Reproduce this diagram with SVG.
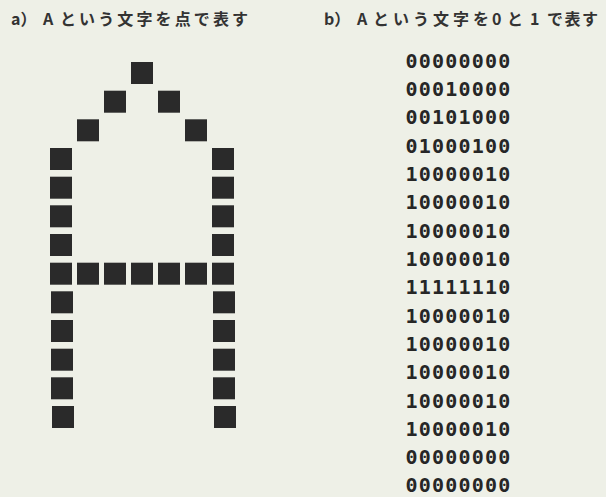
<svg xmlns="http://www.w3.org/2000/svg" xmlns:xlink="http://www.w3.org/1999/xlink" width="606" height="497" viewBox="0 0 606 497">
<style>
.bg{fill:#eef0e7}
.dot{fill:#2a2a2a}
.title{font-family:"Noto Sans CJK JP","Noto Sans",sans-serif;font-size:16px;font-weight:bold;fill:#333}
.bin{font-family:"DejaVu Sans Mono","Liberation Mono",monospace;font-size:20px;font-weight:bold;fill:#262626;letter-spacing:1.2px}
</style>
<defs>
<rect id="sq" width="22" height="22" class="dot"/>
</defs>
<rect class="bg" x="0" y="0" width="606" height="497"/>
<g id="title-a">
<text class="title" x="11" y="25">a）</text>
<text class="title" x="43" y="25">A</text>
<text class="title" x="60" y="25" textLength="188" lengthAdjust="spacing">という文字を点で表す</text>
</g>
<g id="title-b">
<text class="title" x="324" y="25">b）</text>
<text class="title" x="357" y="25">A</text>
<text class="title" x="373" y="25" textLength="116" lengthAdjust="spacing">という文字を</text>
<text class="title" x="492" y="25">0</text>
<text class="title" x="507" y="25">と</text>
<text class="title" x="530" y="25">1</text>
<text class="title" x="547" y="25" textLength="51" lengthAdjust="spacing">で表す</text>
</g>
<g id="dot-matrix">
<use xlink:href="#sq" x="131" y="62"/>
<use xlink:href="#sq" x="104" y="90.7"/>
<use xlink:href="#sq" x="158" y="90.7"/>
<use xlink:href="#sq" x="77" y="119.3"/>
<use xlink:href="#sq" x="185" y="119.3"/>
<use xlink:href="#sq" x="50" y="148"/>
<use xlink:href="#sq" x="212" y="148"/>
<use xlink:href="#sq" x="50" y="176.7"/>
<use xlink:href="#sq" x="212" y="176.7"/>
<use xlink:href="#sq" x="50" y="205.3"/>
<use xlink:href="#sq" x="212" y="205.3"/>
<use xlink:href="#sq" x="50" y="234"/>
<use xlink:href="#sq" x="212" y="234"/>
<use xlink:href="#sq" x="50" y="262.7"/>
<use xlink:href="#sq" x="77" y="262.7"/>
<use xlink:href="#sq" x="104" y="262.7"/>
<use xlink:href="#sq" x="131" y="262.7"/>
<use xlink:href="#sq" x="158" y="262.7"/>
<use xlink:href="#sq" x="185" y="262.7"/>
<use xlink:href="#sq" x="212" y="262.7"/>
<use xlink:href="#sq" x="51" y="291.3"/>
<use xlink:href="#sq" x="213" y="291.3"/>
<use xlink:href="#sq" x="51" y="320"/>
<use xlink:href="#sq" x="213" y="320"/>
<use xlink:href="#sq" x="51" y="348.7"/>
<use xlink:href="#sq" x="213" y="348.7"/>
<use xlink:href="#sq" x="51" y="377.3"/>
<use xlink:href="#sq" x="213" y="377.3"/>
<use xlink:href="#sq" x="52" y="406"/>
<use xlink:href="#sq" x="214" y="406"/>
</g>
<g id="binary">
<text class="bin" x="405.5" y="67.5">00000000</text>
<text class="bin" x="405.5" y="95.8">00010000</text>
<text class="bin" x="405.5" y="124.2">00101000</text>
<text class="bin" x="405.5" y="152.5">01000100</text>
<text class="bin" x="405.5" y="180.8">10000010</text>
<text class="bin" x="405.5" y="209.2">10000010</text>
<text class="bin" x="405.5" y="237.5">10000010</text>
<text class="bin" x="405.5" y="265.8">10000010</text>
<text class="bin" x="405.5" y="294.2">11111110</text>
<text class="bin" x="405.5" y="322.5">10000010</text>
<text class="bin" x="405.5" y="350.8">10000010</text>
<text class="bin" x="405.5" y="379.2">10000010</text>
<text class="bin" x="405.5" y="407.5">10000010</text>
<text class="bin" x="405.5" y="435.8">10000010</text>
<text class="bin" x="405.5" y="464.2">00000000</text>
<text class="bin" x="405.5" y="492">00000000</text>
</g>
</svg>
